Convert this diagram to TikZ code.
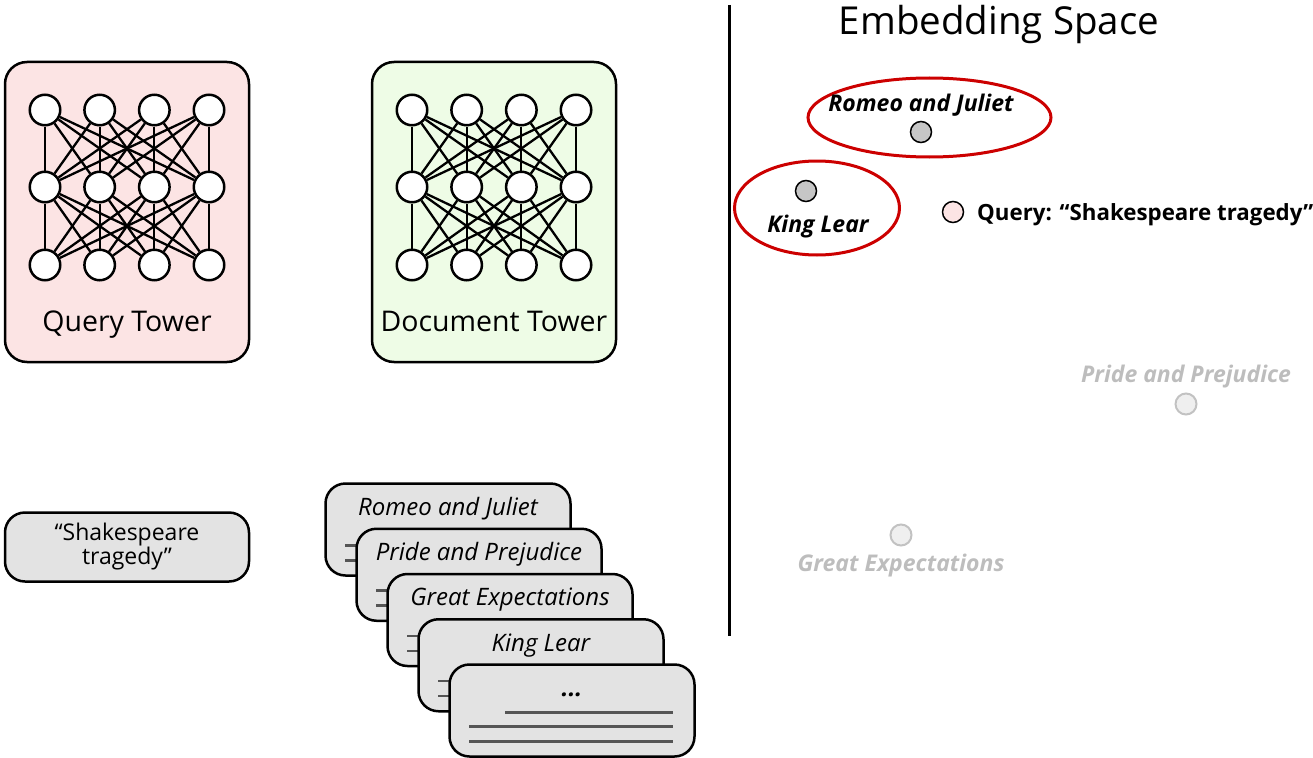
\documentclass[tikz,border=0pt]{standalone}
\usepackage{fontspec}
\setmainfont{Open Sans}
\usetikzlibrary{shapes.geometric,calc}
\definecolor{qpink}{HTML}{FCE4E4}
\definecolor{dgreen}{HTML}{EEFCE6}
\definecolor{cardgray}{HTML}{E3E3E3}
\definecolor{dotgray}{HTML}{C6C6C6}
\definecolor{fadefill}{HTML}{EFEFEF}
\definecolor{fadeline}{HTML}{C2C2C2}
\definecolor{fadetext}{HTML}{BDBDBD}
\definecolor{ovalred}{HTML}{CC0000}
\definecolor{linegray}{HTML}{555555}
\newcommand\cardellipsis{\textbf{...}}
\tikzset{
  tower/.style={draw, line width=2.5pt, rounded corners=22pt, minimum width=244pt, minimum height=300pt},
  neuron/.style={circle, draw, line width=2.5pt, fill=white, minimum size=30.5pt, inner sep=0pt},
  edge/.style={line width=2.3pt},
  towerlabel/.style={anchor=base, font=\fontsize{28.5}{32}\selectfont},
  card/.style={draw, line width=2.5pt, rounded corners=20pt, fill=cardgray, minimum width=245pt, minimum height=92pt},
  cardtitle/.style={anchor=base, font=\fontsize{24}{28}\selectfont\itshape},
  docline/.style={line width=2.5pt, draw=linegray},
  querybox/.style={draw, line width=2.5pt, rounded corners=20pt, fill=cardgray, minimum width=244pt, minimum height=69pt, align=center, font=\fontsize{23}{22}\selectfont},
  oval/.style={ellipse, draw=ovalred, line width=3pt},
  dot/.style={circle, draw, line width=1.5pt, minimum size=21pt, inner sep=0pt},
  fadedot/.style={circle, draw=fadeline, fill=fadefill, line width=2pt, minimum size=21pt, inner sep=0pt},
  emblabel/.style={anchor=base, font=\fontsize{23}{26}\selectfont\bfseries\itshape},
  fadelabel/.style={anchor=base, font=\fontsize{23}{26}\selectfont\bfseries\itshape, text=fadetext},
}
\begin{document}
\begin{tikzpicture}[x=1pt,y=-1pt]
\useasboundingbox (0,0) rectangle (1313,757);

% towers
\node[tower, fill=qpink] (qtower) at (127,212) {};
\node[tower, fill=dgreen] (dtower) at (494,212) {};
\node[towerlabel] (qtlabel) at (127,331) {Query Tower};
\node[towerlabel] (dtlabel) at (494,331) {Document Tower};

\foreach \p/\dx in {q/0, d/367} {
  \foreach \c in {1,2,3,4} {
    \foreach \r/\yy in {1/110, 2/187, 3/265} {
      \node[neuron] (\p-\r-\c) at ({45+54.67*(\c-1)+\dx}, \yy) {};
    }
  }
  \foreach \a in {1,2,3,4} {
    \foreach \b in {1,2,3,4} {
      \draw[edge] (\p-1-\a) -- (\p-2-\b);
      \draw[edge] (\p-2-\a) -- (\p-3-\b);
    }
  }
}

% query box
\node[querybox] (qbox) at (127,547) {“Shakespeare\\tragedy”};

% document cards
\foreach \i/\t in {1/Romeo and Juliet, 2/Pride and Prejudice, 3/Great Expectations, 4/King Lear, 5/\cardellipsis} {
  \pgfmathsetmacro\cx{324+31*(\i-1)+124}
  \pgfmathsetmacro\cy{482+45.25*(\i-1)+47.5}
  \node[card] (card\i) at (\cx,\cy) {};
  \draw[docline] ($(card\i.north west)+(57,49)$) -- ($(card\i.north west)+(225,49)$);
  \draw[docline] ($(card\i.north west)+(21,63)$) -- ($(card\i.north west)+(225,63)$);
  \draw[docline] ($(card\i.north west)+(21,78)$) -- ($(card\i.north west)+(225,78)$);
  \node[cardtitle] (title\i) at ($(card\i.north)+(0,33)$) {\t};
}

% divider
\coordinate (divtop) at (729,5);
\coordinate (divbot) at (729,636);
\draw[line width=3pt] (divtop) -- (divbot);

% embedding space
\node[anchor=base, font=\fontsize{38.5}{42}\selectfont] (embtitle) at (999,35) {Embedding Space};

\node[oval, minimum width=243pt, minimum height=79pt] (rjoval) at (929.5,117.5) {};
\node[oval, minimum width=165pt, minimum height=94pt] (kloval) at (817,208) {};

\node[emblabel] (rjtext) at (921,111) {Romeo and Juliet};
\node[dot, fill=dotgray] (rjdot) at (921,132) {};
\node[dot, fill=dotgray] (kldot) at (806,191) {};
\node[emblabel] (kltext) at (818,232) {King Lear};

\node[dot, fill=qpink] (qdot) at (953,212) {};
\node[anchor=base west, inner sep=2pt, font=\fontsize{22.3}{25}\selectfont\bfseries] (qtext) at (975,220) {Query: “Shakespeare tragedy”};

\node[fadelabel] (pptext) at (1186,382) {Pride and Prejudice};
\node[fadedot] (ppdot) at (1186,404) {};
\node[fadedot] (gedot) at (901,535) {};
\node[fadelabel] (getext) at (901,571) {Great Expectations};
\end{tikzpicture}
\end{document}
